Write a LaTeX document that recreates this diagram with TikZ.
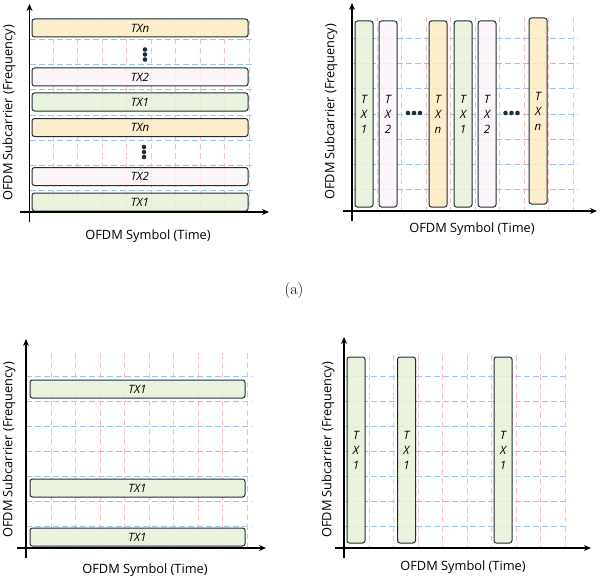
\documentclass[tikz,border=0pt]{standalone}
\usepackage{fontspec}
\newfontfamily\uisans{Open Sans}
\usetikzlibrary{arrows.meta}

\definecolor{barline}{HTML}{1F2D38}
\definecolor{txgreenfill}{HTML}{E6F1D8}
\definecolor{txpinkfill}{HTML}{FBF3F9}
\definecolor{txyellowfill}{HTML}{FCEBC2}
\definecolor{subblue}{HTML}{9EC3E8}
\definecolor{symred}{HTML}{F7BCBC}

\tikzset{
  txbar/.style={draw=barline, line width=1pt, rounded corners=2.5pt, inner sep=0pt,
    fill opacity=0.85, text opacity=1, font=\uisans\itshape\fontsize{11.5}{11.5}\selectfont},
  hbar/.style={txbar, minimum height=18pt},
  vbar/.style={txbar, minimum width=18pt, minimum height=186pt, align=center,
    font=\uisans\itshape\fontsize{11.5}{15}\selectfont},
  txone/.style={fill=txgreenfill},
  txtwo/.style={fill=txpinkfill},
  txlast/.style={fill=txyellowfill},
  subline/.style={draw=subblue, line width=1pt, dash pattern=on 5.5pt off 3.5pt},
  symline/.style={draw=symred, line width=1pt, dash pattern=on 5.5pt off 4pt},
  axisline/.style={-{Stealth[length=7pt,width=6pt]}, line width=1.3pt, draw=black},
  axislabel/.style={font=\uisans\fontsize{12.8}{12.8}\selectfont},
  dotmark/.style={circle, fill=barline, inner sep=0pt, minimum size=4.6pt}
}

\begin{document}
\begin{tikzpicture}[x=1pt, y=-1pt]
  \useasboundingbox (0,0) rectangle (600,578);

% top left: subcarrier blocks per TX
  \foreach \y in {40,65,...,190} \draw[subline] (30,\y) -- (254,\y);
  \foreach \k in {0,...,8} \draw[symline] (53+24.5*\k,20) -- (53+24.5*\k,212);
  \node[hbar, txlast, minimum width=216pt] (tlxn) at (140,28) {TXn};
  \node[hbar, txtwo, minimum width=216pt] (tlxtwo) at (140,77) {TX2};
  \node[hbar, txone, minimum width=216pt] (tlxone) at (140,102) {TX1};
  \node[hbar, txlast, minimum width=216pt] (tlxnb) at (140,127.5) {TXn};
  \node[hbar, txtwo, minimum width=216pt] (tlxtwob) at (140,176.5) {TX2};
  \node[hbar, txone, minimum width=216pt] (tlxoneb) at (140,202) {TX1};
  \foreach \y [count=\i] in {49.5,54.5,59.5} \node[dotmark] (tldota\i) at (145,\y) {};
  \foreach \y [count=\i] in {147,152,157} \node[dotmark] (tldotb\i) at (144,\y) {};
  \coordinate (tlylow) at (29.5,222);
  \coordinate (tlytop) at (29.5,4);
  \coordinate (tlxlow) at (20,212);
  \coordinate (tlxtop) at (269,212);
  \draw[axisline] (tlylow) -- (tlytop);
  \draw[axisline] (tlxlow) -- (tlxtop);
  \node[axislabel] (tlxlabel) at (148,236) {OFDM Symbol (Time)};
  \node[axislabel, rotate=90] (tlylabel) at (9,113) {OFDM Subcarrier (Frequency)};

% top right: OFDM symbols per TX
  \foreach \y in {39,64,...,189} \draw[subline] (352,\y) -- (578,\y);
  \foreach \k in {0,...,8} \draw[symline] (377+24.5*\k,17) -- (377+24.5*\k,211);
  \node[vbar, txone] (trxone) at (364,114) {T\\X\\1};
  \node[vbar, txtwo] (trxtwo) at (388,114) {T\\X\\2};
  \node[vbar, txlast] (trxn) at (438,114) {T\\X\\n};
  \node[vbar, txone] (trxoneb) at (463,114) {T\\X\\1};
  \node[vbar, txtwo] (trxtwob) at (487,114) {T\\X\\2};
  \node[vbar, txlast] (trxnb) at (538,111) {T\\X\\n};
  \foreach \x [count=\i] in {408,414,420} \node[dotmark] (trdota\i) at (\x,113) {};
  \foreach \x [count=\i] in {505.5,511.5,517.5} \node[dotmark] (trdotb\i) at (\x,113) {};
  \coordinate (trylow) at (352,221);
  \coordinate (trytop) at (352,3);
  \coordinate (trxlow) at (343,211);
  \coordinate (trxtop) at (597,211);
  \draw[axisline] (trylow) -- (trytop);
  \draw[axisline] (trxlow) -- (trxtop);
  \node[axislabel] (trxlabel) at (472,229) {OFDM Symbol (Time)};
  \node[axislabel, rotate=90] (trylabel) at (331,112) {OFDM Subcarrier (Frequency)};

  \node[font=\fontsize{16}{16}\selectfont] (suba) at (294,291) {(a)};

% bottom left: one TX, spread subcarriers
  \foreach \y in {376,401,...,526} \draw[subline] (26,\y) -- (252,\y);
  \foreach \k in {0,...,8} \draw[symline] (51+24.5*\k,353) -- (51+24.5*\k,548);
  \node[hbar, txone, minimum width=215pt] (blxone) at (137.5,389) {TX1};
  \node[hbar, txone, minimum width=215pt] (blxoneb) at (137.5,488) {TX1};
  \node[hbar, txone, minimum width=215pt] (blxonec) at (137.5,537) {TX1};
  \coordinate (blylow) at (26,558);
  \coordinate (blytop) at (26,339);
  \coordinate (blxlow) at (17,548);
  \coordinate (blxtop) at (266,548);
  \draw[axisline] (blylow) -- (blytop);
  \draw[axisline] (blxlow) -- (blxtop);
  \node[axislabel] (blxlabel) at (145,570) {OFDM Symbol (Time)};
  \node[axislabel, rotate=90] (blylabel) at (9,450) {OFDM Subcarrier (Frequency)};

% bottom right: one TX, spread symbols
  \foreach \y in {376,401,...,526} \draw[subline] (344,\y) -- (569,\y);
  \foreach \k in {0,...,8} \draw[symline] (369+24.5*\k,355) -- (369+24.5*\k,548);
  \node[vbar, txone] (brxone) at (356,450) {T\\X\\1};
  \node[vbar, txone] (brxoneb) at (406.5,450) {T\\X\\1};
  \node[vbar, txone] (brxonec) at (503,450) {T\\X\\1};
  \coordinate (brylow) at (344,558);
  \coordinate (brytop) at (344,337);
  \coordinate (brxlow) at (335,548);
  \coordinate (brxtop) at (591,548);
  \draw[axisline] (brylow) -- (brytop);
  \draw[axisline] (brxlow) -- (brxtop);
  \node[axislabel] (brxlabel) at (463,567) {OFDM Symbol (Time)};
  \node[axislabel, rotate=90] (brylabel) at (328,450) {OFDM Subcarrier (Frequency)};
\end{tikzpicture}
\end{document}
